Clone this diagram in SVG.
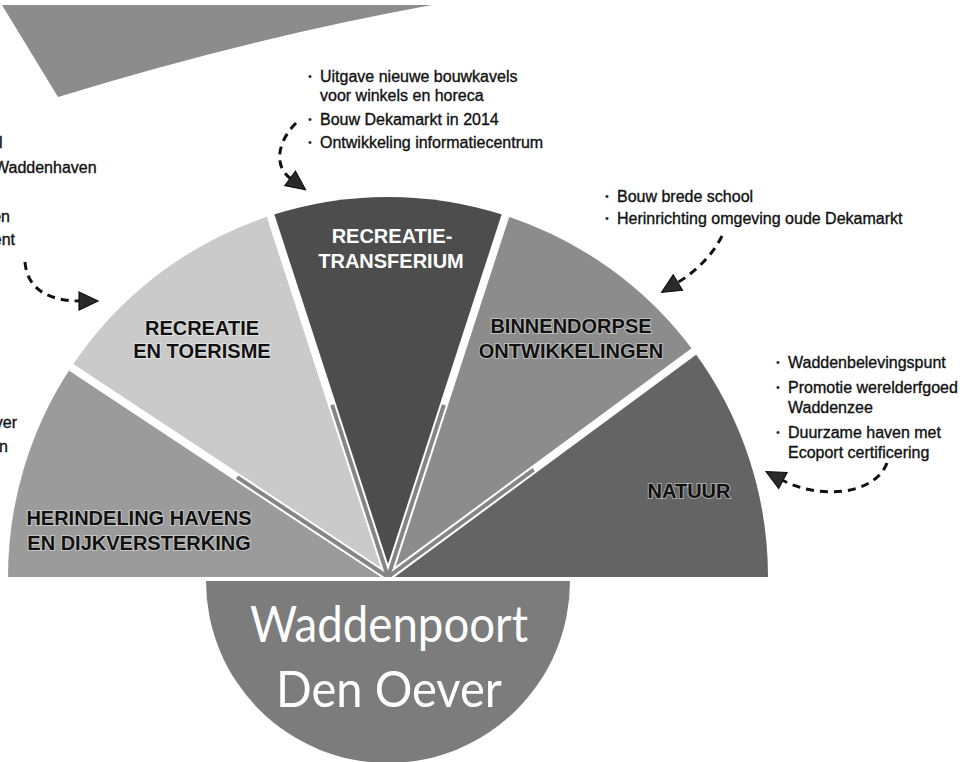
<svg xmlns="http://www.w3.org/2000/svg" width="973" height="762" viewBox="0 0 973 762">
<style>
.info{font-family:"Liberation Sans",Arial,sans-serif;font-size:16px;fill:#111;stroke:#111;stroke-width:0.35;}
.bul{font-family:"Liberation Sans",Arial,sans-serif;font-size:11px;fill:#222;}
.lab{font-family:"Liberation Sans",Arial,sans-serif;font-size:20px;font-weight:bold;fill:#111;text-anchor:middle;stroke:rgba(255,255,255,0.45);stroke-width:2;paint-order:stroke;}
.labw{font-family:"Liberation Sans",Arial,sans-serif;font-size:20px;font-weight:bold;fill:#fff;text-anchor:middle;}
.big{font-family:Lato,"Liberation Sans",sans-serif;font-size:50px;fill:#fff;text-anchor:middle;}
.gap{stroke:#fff;stroke-width:8;fill:none;}
.gapin{stroke:#858585;stroke-width:4;fill:none;}
.dash{fill:none;stroke:#111;stroke-width:3;stroke-dasharray:8 6;}
</style>
<defs>
<marker id="ah" markerUnits="userSpaceOnUse" markerWidth="22" markerHeight="22" viewBox="0 0 22 22" refX="2" refY="11" orient="auto">
<path d="M1,2 L20,11 L1,20 Z" fill="#2a2a2a" stroke="#111" stroke-width="1.2"/>
</marker>
</defs>
<rect width="973" height="762" fill="#fff"/>
<path id="topshape" d="M2,5 L432,5 Q250,38 58,97 Z" fill="#8c8c8c"/>

<g id="sector-herindeling">
<path d="M388,577 L8,577 A380,380 0 0 1 71.1,367.3 Z" fill="#9b9b9b"/>
<text class="lab" x="139" y="525">HERINDELING HAVENS</text>
<text class="lab" x="139" y="550">EN DIJKVERSTERKING</text>
</g>
<g id="sector-recreatie-toerisme">
<path d="M388,577 L71.1,367.3 A380,380 0 0 1 270.6,215.6 Z" fill="#cacaca"/>
<text class="lab" x="202" y="335">RECREATIE</text>
<text class="lab" x="202" y="358">EN TOERISME</text>
</g>
<g id="sector-recreatietransferium">
<path d="M388,577 L270.6,215.6 A380,380 0 0 1 505.4,215.6 Z" fill="#4d4d4d"/>
<text class="labw" x="392" y="243">RECREATIE-</text>
<text class="labw" x="391" y="268">TRANSFERIUM</text>
</g>
<g id="sector-binnendorpse">
<path d="M388,577 L505.4,215.6 A380,380 0 0 1 693.9,351.5 Z" fill="#8c8c8c"/>
<text class="lab" x="571" y="333">BINNENDORPSE</text>
<text class="lab" x="571" y="358">ONTWIKKELINGEN</text>
</g>
<g id="sector-natuur">
<path d="M388,577 L693.9,351.5 A380,380 0 0 1 768,577 Z" fill="#646464"/>
<text class="lab" x="689" y="498">NATUUR</text>
</g>

<g id="gaps">
<line class="gap" x1="388" y1="577" x2="58.6" y2="359"/>
<line class="gap" x1="388" y1="577" x2="265.9" y2="201.3"/>
<line class="gap" x1="388" y1="577" x2="510.1" y2="201.3"/>
<line class="gap" x1="388" y1="577" x2="705.9" y2="342.6"/>
<line class="gapin" x1="388" y1="577" x2="237.1" y2="477.1"/>
<line class="gapin" x1="388" y1="577" x2="332.1" y2="404.9"/>
<line class="gapin" x1="388" y1="577" x2="443.9" y2="404.9"/>
<line class="gapin" x1="388" y1="577" x2="533.7" y2="469.6"/>
<rect x="0" y="577" width="973" height="4" fill="#fff"/>
</g>

<g id="center">
<path d="M206,581 A182,182 0 0 0 570,581 Z" fill="#7c7c7c"/>
<text class="big" x="389" y="642" textLength="278" lengthAdjust="spacingAndGlyphs">Waddenpoort</text>
<text class="big" x="389" y="707" textLength="226" lengthAdjust="spacingAndGlyphs">Den Oever</text>
</g>

<g id="info-left">
<text class="info" x="-1" y="148">l</text>
<text class="info" x="-6" y="173">Waddenhaven</text>
<text class="info" x="10" y="222" text-anchor="end">en</text>
<text class="info" x="15" y="245" text-anchor="end">ent</text>
<text class="info" x="17" y="428" text-anchor="end">ver</text>
<text class="info" x="8" y="452" text-anchor="end">n</text>
</g>

<g id="info-recreatietransferium">
<text class="bul" x="308" y="80">•</text>
<text class="info" x="320" y="82">Uitgave nieuwe bouwkavels</text>
<text class="info" x="320" y="101">voor winkels en horeca</text>
<text class="bul" x="308" y="123">•</text>
<text class="info" x="320" y="125">Bouw Dekamarkt in 2014</text>
<text class="bul" x="308" y="146">•</text>
<text class="info" x="320" y="148">Ontwikkeling informatiecentrum</text>
</g>

<g id="info-binnendorpse">
<text class="bul" x="605" y="200">•</text>
<text class="info" x="617" y="202">Bouw brede school</text>
<text class="bul" x="605" y="222">•</text>
<text class="info" x="617" y="224">Herinrichting omgeving oude Dekamarkt</text>
</g>

<g id="info-natuur">
<text class="bul" x="776" y="366">•</text>
<text class="info" x="788" y="368">Waddenbelevingspunt</text>
<text class="bul" x="776" y="391">•</text>
<text class="info" x="788" y="393">Promotie werelderfgoed</text>
<text class="info" x="788" y="413">Waddenzee</text>
<text class="bul" x="776" y="436">•</text>
<text class="info" x="788" y="438">Duurzame haven met</text>
<text class="info" x="788" y="458">Ecoport certificering</text>
</g>

<g id="connectors">
<path class="dash" d="M25,262 C27,290 50,301 80,301" marker-end="url(#ah)"/>
<path class="dash" d="M296,123 C279,140 272,165 291,179" marker-end="url(#ah)"/>
<path class="dash" d="M722,236 C712,256 695,272 677,283" marker-end="url(#ah)"/>
<path class="dash" d="M887,463 C875,495 820,500 782,480" marker-end="url(#ah)"/>
</g>
</svg>
